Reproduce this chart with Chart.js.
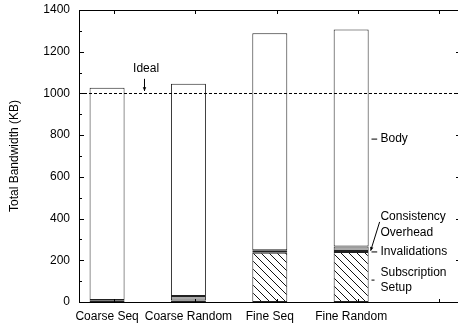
<!DOCTYPE html>
<html>
<head>
<meta charset="utf-8">
<script src="https://cdn.jsdelivr.net/npm/chart.js@4/dist/chart.umd.min.js"></script>
<style>
  html, body { margin: 0; padding: 0; background: #fff; overflow: hidden; }
  #wrap { width: 470px; height: 326px; }
</style>
</head>
<body>
<div id="wrap"><canvas id="chart" width="470" height="326"></canvas></div>
<script>
// data
const categories = ['Coarse Seq', 'Coarse Random', 'Fine Seq', 'Fine Random'];
const subscriptionSetup = [0, 0, 236, 240];
const invalidations = [8, 7, 4, 4];
const consistencyOverhead = [2, 22, 8, 22];
const body = [1017, 1018, 1040, 1041];
const idealValue = 1000;
const yTicks = [0, 200, 400, 600, 800, 1000, 1200, 1400];

const FONT = '"Liberation Sans", Arial, Helvetica, sans-serif';

function hatchPattern() {
    const c = document.createElement('canvas');
    c.width = 8;
    c.height = 8;
    const g = c.getContext('2d');
    g.fillStyle = '#fff';
    g.fillRect(0, 0, 8, 8);
    g.strokeStyle = '#111';
    g.lineWidth = 1;
    g.beginPath();
    g.moveTo(-1, -1); g.lineTo(9, 9);
    g.moveTo(-1, 7); g.lineTo(1, 9);
    g.moveTo(7, -1); g.lineTo(9, 1);
    g.stroke();
    return g.createPattern(c, 'repeat');
}

const toPoints = (arr) => arr.map((v, i) => ({ x: i, y: v }));

const common = {
    borderColor: '#222',
    borderWidth: 1,
    borderSkipped: false,
    barPercentage: 0.43,
    categoryPercentage: 1,
};

const datasets = [
    { label: 'Subscription Setup', data: toPoints(subscriptionSetup), backgroundColor: hatchPattern(), ...common },
    { label: 'Invalidations', data: toPoints(invalidations), backgroundColor: '#333', ...common },
    { label: 'Consistency Overhead', data: toPoints(consistencyOverhead), backgroundColor: '#aaa', ...common },
    { label: 'Body', data: toPoints(body), backgroundColor: '#fff', ...common },
];

function line(ctx, x1, y1, x2, y2) {
    ctx.beginPath();
    ctx.moveTo(x1, y1);
    ctx.lineTo(x2, y2);
    ctx.stroke();
}

function arrow(ctx, x1, y1, x2, y2) {
    line(ctx, x1, y1, x2, y2);
    const a = Math.atan2(y2 - y1, x2 - x1);
    const s = 4;
    ctx.beginPath();
    ctx.moveTo(x2, y2);
    ctx.lineTo(x2 - s * Math.cos(a - 0.45), y2 - s * Math.sin(a - 0.45));
    ctx.lineTo(x2 - s * Math.cos(a + 0.45), y2 - s * Math.sin(a + 0.45));
    ctx.closePath();
    ctx.fill();
}

const decorations = {
    id: 'decorations',
    afterDatasetsDraw(chart) {
        const { ctx, chartArea: a } = chart;
        const xs = chart.scales.x;
        const ys = chart.scales.y;
        ctx.save();
        ctx.strokeStyle = '#000';
        ctx.fillStyle = '#000';
        ctx.lineWidth = 1;

        // inward ticks: left major + minor, right major only
        for (let v = 0; v <= 1400; v += 100) {
            const y = Math.round(ys.getPixelForValue(v)) + 0.5;
            const major = v % 200 === 0;
            line(ctx, a.left, y, a.left + (major ? 5 : 3), y);
            if (major) line(ctx, a.right, y, a.right - 5, y);
        }
        // top / bottom ticks
        for (let i = 0; i <= 4; i++) {
            const x = Math.round(xs.getPixelForValue(i + 0.085)) + 0.5;
            line(ctx, x, a.top, x, a.top + 4);
            line(ctx, x, a.bottom, x, a.bottom - 3);
        }

        // ideal line
        const yi = Math.round(ys.getPixelForValue(idealValue)) + 0.5;
        ctx.setLineDash([3, 2]);
        line(ctx, a.left, yi, a.right, yi);
        ctx.setLineDash([]);

        // frame
        ctx.strokeRect(a.left + 0.5, a.top + 0.5, a.right - a.left - 1, a.bottom - a.top);

        // annotations
        ctx.font = '12px ' + FONT;
        ctx.textBaseline = 'middle';
        ctx.textAlign = 'center';
        ctx.fillText('Ideal', xs.getPixelForValue(0.48), ys.getPixelForValue(1117));
        arrow(ctx, xs.getPixelForValue(0.46), ys.getPixelForValue(1070),
            xs.getPixelForValue(0.46), ys.getPixelForValue(1012));

        ctx.textAlign = 'left';
        const tx = xs.getPixelForValue(3.36);
        const d1 = xs.getPixelForValue(3.25);
        const d2 = xs.getPixelForValue(3.32);

        ctx.fillText('Body', tx, ys.getPixelForValue(781));
        line(ctx, d1, ys.getPixelForValue(781), d2, ys.getPixelForValue(781));

        ctx.fillText('Consistency', tx, ys.getPixelForValue(408));
        ctx.fillText('Overhead', tx, ys.getPixelForValue(331));
        arrow(ctx, xs.getPixelForValue(3.35), ys.getPixelForValue(384),
            xs.getPixelForValue(3.24), ys.getPixelForValue(246));

        ctx.fillText('Invalidations', tx, ys.getPixelForValue(240));
        line(ctx, d1, ys.getPixelForValue(240), d2, ys.getPixelForValue(240));

        ctx.fillText('Subscription', tx, ys.getPixelForValue(139));
        ctx.fillText('Setup', tx, ys.getPixelForValue(67));
        line(ctx, d1, ys.getPixelForValue(105), d1 + 3, ys.getPixelForValue(105));

        ctx.restore();
    },
};

new Chart(document.getElementById('chart'), {
    type: 'bar',
    data: { datasets },
    options: {
        responsive: false,
        animation: false,
        layout: { padding: { top: 10, right: 9, left: 0, bottom: 0 } },
        plugins: {
            legend: { display: false },
            tooltip: { enabled: false },
        },
        scales: {
            x: {
                type: 'linear',
                stacked: true,
                offset: false,
                min: -0.345,
                max: 4.35,
                grid: { display: false, drawTicks: false },
                border: { display: false },
                afterFit(scale) {
                    scale.height = 24;
                    scale.paddingLeft = 0;
                    scale.paddingRight = 0;
                },
                afterBuildTicks(scale) {
                    scale.ticks = categories.map((c, i) => ({ value: i }));
                },
                ticks: {
                    autoSkip: false,
                    maxRotation: 0,
                    padding: 7,
                    color: '#000',
                    font: { family: FONT, size: 12 },
                    callback: (v) => categories[v] ?? '',
                },
            },
            y: {
                stacked: true,
                min: 0,
                max: 1400,
                grid: { display: false, drawTicks: false },
                border: { display: false },
                afterFit(scale) {
                    scale.width = 79;
                    scale.paddingTop = 0;
                    scale.paddingBottom = 0;
                },
                afterBuildTicks(scale) {
                    scale.ticks = yTicks.map((v) => ({ value: v }));
                },
                ticks: {
                    padding: 9,
                    color: '#000',
                    font: { family: FONT, size: 12 },
                    callback: (v) => String(v),
                },
                title: {
                    display: true,
                    text: 'Total Bandwidth (KB)',
                    color: '#000',
                    font: { family: FONT, size: 12 },
                    padding: { top: 7, bottom: 0 },
                },
            },
        },
    },
    plugins: [decorations],
});
</script>
</body>
</html>
